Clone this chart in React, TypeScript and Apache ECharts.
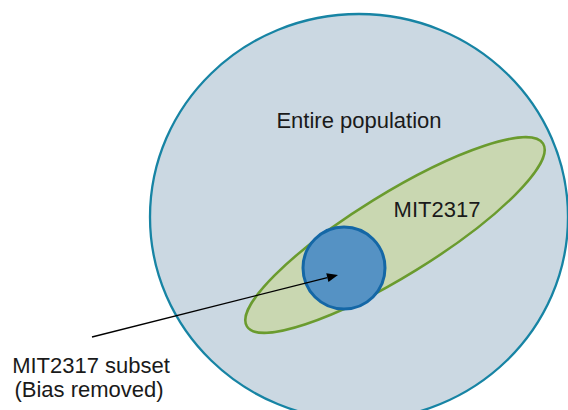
import React, { useEffect, useRef } from "react";
import * as echarts from "echarts";

// Shapes: [centerX, centerY, radiusX, radiusY, rotationDeg]
const populationShape = [359, 217, 209, 203, 0];
const mitShape = [395, 235, 174, 41, 31.7];
const subsetShape = [344, 268, 41, 41, 0];
const shapeNames = ["Entire population", "MIT2317", "MIT2317 subset"];
const shapeFills = ["#cbd8e2", "#c9d7b1", "#5592c4"];
const shapeStrokes = ["#1784a4", "#6a9b2e", "#1467a6"];
const shapeStrokeWidths = [2.3, 2.5, 3];

// Arrow: [fromX, fromY, toX, toY]
const arrowLine = [92, 337, 338, 275];

// Labels: [text, x, y]
const labelTexts = ["Entire population", "MIT2317", "MIT2317 subset", "(Bias removed)"];
const labelX = [359, 437, 91, 89];
const labelY = [120, 209, 365, 389];

export default function App() {
  const ref = useRef<HTMLDivElement>(null);
  useEffect(() => {
    const chart = echarts.init(ref.current!, undefined, { renderer: "svg" });
    const shapes = [populationShape, mitShape, subsetShape];
    chart.setOption({
      animation: false,
      grid: { left: 0, right: 0, top: 0, bottom: 0 },
      xAxis: { type: "value", min: 0, max: 568, show: false },
      yAxis: { type: "value", min: 0, max: 410, inverse: true, show: false },
      series: [
        {
          type: "custom",
          name: "shapes",
          coordinateSystem: "cartesian2d",
          clip: false,
          data: shapes.map((s, i) => [s[0], s[1], s[2], s[3], s[4], i]),
          renderItem: (params: any, api: any) => {
            const c = api.coord([api.value(0), api.value(1)]);
            const sz = api.size([api.value(2), api.value(3)]);
            const idx = api.value(5);
            return {
              type: "ellipse",
              x: c[0],
              y: c[1],
              rotation: (api.value(4) * Math.PI) / 180,
              shape: { cx: 0, cy: 0, rx: sz[0], ry: sz[1] },
              style: {
                fill: shapeFills[idx],
                stroke: shapeStrokes[idx],
                lineWidth: shapeStrokeWidths[idx],
              },
            };
          },
        },
        {
          type: "custom",
          name: "arrow",
          coordinateSystem: "cartesian2d",
          clip: false,
          data: [arrowLine],
          renderItem: (params: any, api: any) => {
            const p0 = api.coord([api.value(0), api.value(1)]);
            const p1 = api.coord([api.value(2), api.value(3)]);
            const ang = Math.atan2(p1[1] - p0[1], p1[0] - p0[0]);
            const len = 11;
            const half = 4.5;
            const bx = p1[0] - len * Math.cos(ang);
            const by = p1[1] - len * Math.sin(ang);
            const nx = -Math.sin(ang);
            const ny = Math.cos(ang);
            return {
              type: "group",
              children: [
                {
                  type: "line",
                  shape: { x1: p0[0], y1: p0[1], x2: bx, y2: by },
                  style: { stroke: "#000", lineWidth: 1.3 },
                },
                {
                  type: "polygon",
                  shape: {
                    points: [
                      [p1[0], p1[1]],
                      [bx + nx * half, by + ny * half],
                      [bx - nx * half, by - ny * half],
                    ],
                  },
                  style: { fill: "#000" },
                },
              ],
            };
          },
        },
        {
          type: "custom",
          name: "labels",
          coordinateSystem: "cartesian2d",
          clip: false,
          data: labelTexts.map((t, i) => [labelX[i], labelY[i], i]),
          renderItem: (params: any, api: any) => {
            const c = api.coord([api.value(0), api.value(1)]);
            const idx = api.value(2);
            return {
              type: "text",
              x: c[0],
              y: c[1],
              style: {
                text: labelTexts[idx],
                fill: "#1a1a1a",
                fontSize: 22,
                fontFamily: "Liberation Sans, Arial, sans-serif",
                align: "center",
                verticalAlign: "middle",
              },
            };
          },
        },
      ],
    });
    return () => chart.dispose();
  }, []);
  return <div ref={ref} style={{ width: 568, height: 410, position: "absolute", left: 0, top: 0 }} />;
}
